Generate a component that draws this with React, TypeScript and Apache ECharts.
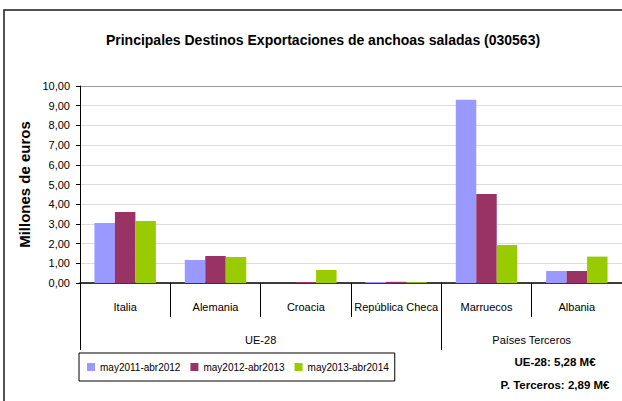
import React, { useEffect, useRef } from "react";
import * as echarts from "echarts";

const categories = ["Italia", "Alemania", "Croacia", "República Checa", "Marruecos", "Albania"];
const groupLabels = ["UE-28", "Países Terceros"];
const seriesNames = ["may2011-abr2012", "may2012-abr2013", "may2013-abr2014"];
const s2011 = [3.05, 1.17, 0, 0.05, 9.3, 0.61];
const s2012 = [3.6, 1.37, 0.05, 0.06, 4.52, 0.61];
const s2013 = [3.15, 1.32, 0.66, 0.04, 1.93, 1.34];
const colors = ["#9999FF", "#993366", "#99CC00"];
const totals = ["UE-28: 5,28 M€", "P. Terceros: 2,89 M€"];

const SANS = '"Liberation Sans", Arial, sans-serif';

export default function App() {
  const ref = useRef<HTMLDivElement>(null);
  useEffect(() => {
    if (!ref.current) return;
    const chart = echarts.init(ref.current, null, { renderer: "svg" });
    const splitColors = Array.from({ length: 10 }, () => "#dcdcdc").concat(["#9a9a9a"]);
    chart.setOption({
      animation: false,
      backgroundColor: "#fff",
      title: {
        text: "Principales Destinos Exportaciones de anchoas saladas (030563)",
        left: 318,
        top: 28,
        textAlign: "center",
        textStyle: { fontFamily: SANS, fontWeight: "bold", fontSize: 14, color: "#000" },
      },
      grid: { left: 80, right: 0, top: 86, bottom: 118, containLabel: false },
      legend: {
        left: 79,
        top: 353,
        itemWidth: 8,
        itemHeight: 8,
        itemGap: 10,
        icon: "rect",
        borderColor: "#000",
        borderWidth: 1,
        padding: [9, 6, 9, 8],
        textStyle: { fontFamily: SANS, fontSize: 10, color: "#000" },
        data: seriesNames,
      },
      xAxis: [
        {
          type: "category",
          data: categories,
          axisLine: { lineStyle: { color: "#000", width: 1.5 } },
          axisTick: { show: true, interval: 0, length: 34, lineStyle: { color: "#000" } },
          axisLabel: { interval: 0, margin: 18, fontFamily: SANS, fontSize: 11, color: "#000" },
        },
        {
          type: "value",
          position: "bottom",
          min: 0,
          max: 6,
          interval: 1,
          axisLine: { show: false },
          splitLine: { show: false },
          axisTick: { show: true, customValues: [0, 4], length: 67, lineStyle: { color: "#000" } },
          axisLabel: {
            customValues: [2, 5],
            margin: 51,
            fontFamily: SANS,
            fontSize: 11,
            color: "#000",
            formatter: (v: number) => (v === 2 ? groupLabels[0] : groupLabels[1]),
          },
        },
      ],
      yAxis: {
        type: "value",
        min: 0,
        max: 10,
        interval: 1,
        name: "Millones de euros",
        nameLocation: "middle",
        nameGap: 45,
        nameTextStyle: { fontFamily: SANS, fontWeight: "bold", fontSize: 15, color: "#000" },
        axisLine: { show: true, lineStyle: { color: "#000" } },
        axisTick: { show: true, length: 4, lineStyle: { color: "#000" } },
        axisLabel: {
          margin: 10,
          fontFamily: SANS,
          fontSize: 11,
          color: "#000",
          formatter: (v: number) => v.toFixed(2).replace(".", ","),
        },
        splitLine: { show: true, lineStyle: { color: splitColors, width: 1 } },
      },
      series: [s2011, s2012, s2013].map((d, i) => ({
        name: seriesNames[i],
        type: "bar",
        data: d,
        itemStyle: { color: colors[i] },
        barGap: "0%",
        barCategoryGap: "32%",
      })),
      graphic: [
        {
          type: "rect",
          shape: { x: 4, y: 10, width: 700, height: 500 },
          style: { fill: "none", stroke: "#1a1a1a", lineWidth: 1.5 },
          silent: true,
        },
        {
          type: "text",
          x: 555,
          y: 362,
          style: {
            text: totals[0],
            fontFamily: SANS,
            fontWeight: "bold",
            fontSize: 11.5,
            fill: "#000",
            align: "center",
            verticalAlign: "middle",
          },
        },
        {
          type: "text",
          x: 555,
          y: 385,
          style: {
            text: totals[1],
            fontFamily: SANS,
            fontWeight: "bold",
            fontSize: 11.5,
            fill: "#000",
            align: "center",
            verticalAlign: "middle",
          },
        },
      ],
    });
    return () => chart.dispose();
  }, []);
  return (
    <div
      ref={ref}
      style={{ position: "fixed", left: 0, top: 0, width: 622, height: 401, background: "#fff" }}
    />
  );
}
